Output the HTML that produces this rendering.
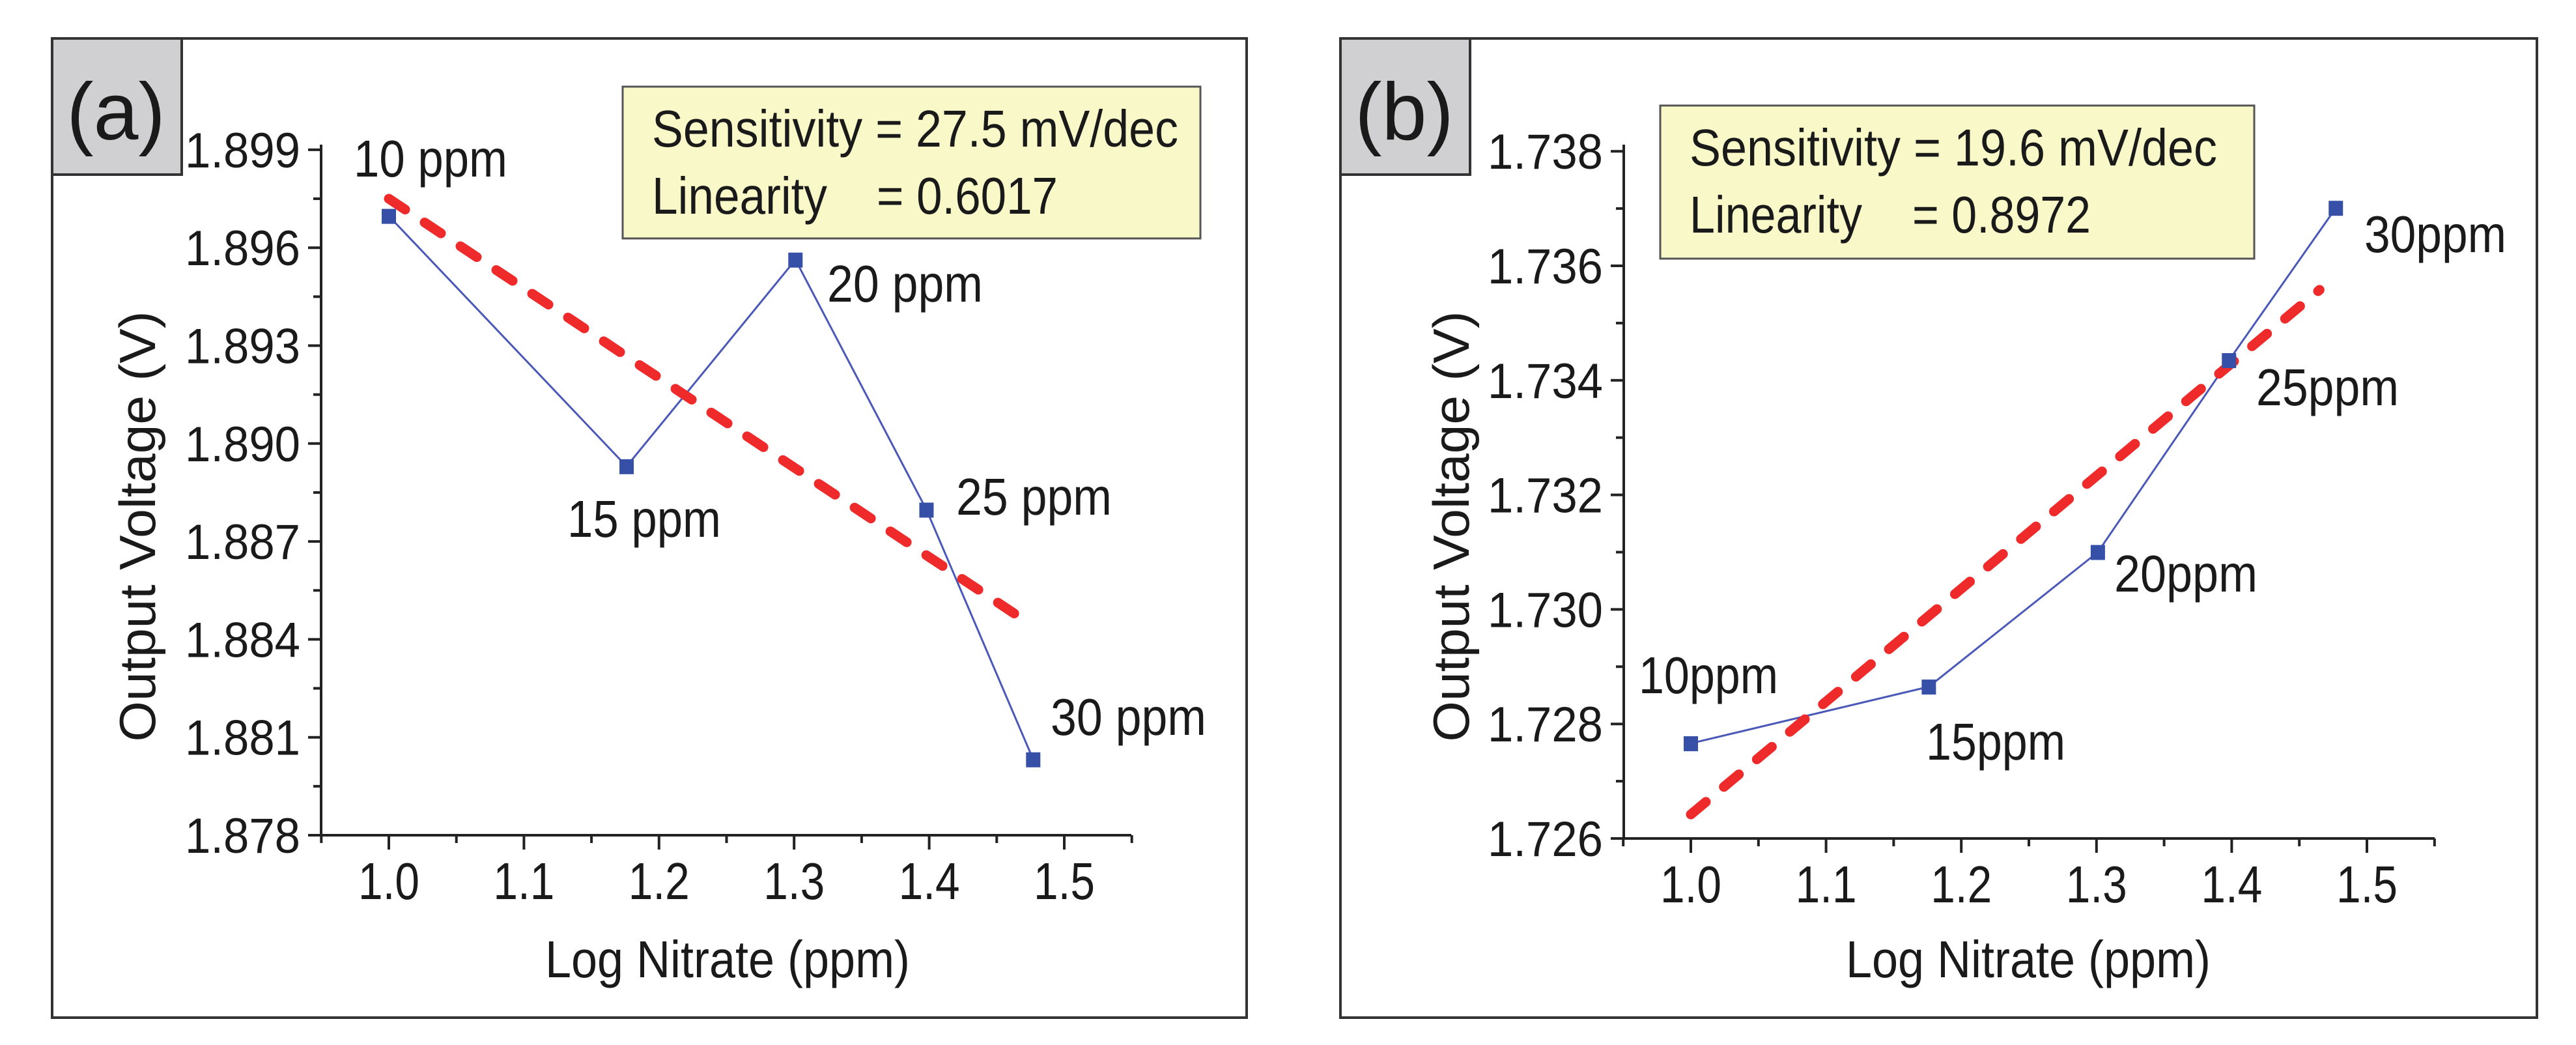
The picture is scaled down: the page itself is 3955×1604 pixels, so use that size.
<!DOCTYPE html>
<html><head><meta charset="utf-8"><style>
html,body{margin:0;padding:0;background:#fff;}
svg{display:block;}
text{font-family:"Liberation Sans",sans-serif;fill:#1a1a1a;}
</style></head><body>
<svg id="fig" width="3955" height="1604" viewBox="0 0 3955 1604" xmlns="http://www.w3.org/2000/svg">
<rect x="0" y="0" width="3955" height="1604" fill="#fff"/>
<g id="pa"></g>
<g id="pb"></g>
</svg>
<script>
// ---- Panel (a) data ----
const xTicksA = [1.0, 1.1, 1.2, 1.3, 1.4, 1.5];
const xTickLabelsA = ["1.0","1.1","1.2","1.3","1.4","1.5"];
const yTicksA = [1.878, 1.881, 1.884, 1.887, 1.890, 1.893, 1.896, 1.899];
const yTickLabelsA = ["1.878","1.881","1.884","1.887","1.890","1.893","1.896","1.899"];
const xValsA = [1.0, 1.176, 1.301, 1.398, 1.477];
const yValsA = [1.89697, 1.8893, 1.89563, 1.88797, 1.88032];
const pointLabelsA = ["10 ppm","15 ppm","20 ppm","25 ppm","30 ppm"];
const fitXA = [1.0, 1.466];
const fitYA = [1.8975, 1.88471];
// ---- Panel (b) data ----
const xTicksB = [1.0, 1.1, 1.2, 1.3, 1.4, 1.5];
const xTickLabelsB = ["1.0","1.1","1.2","1.3","1.4","1.5"];
const yTicksB = [1.726, 1.728, 1.730, 1.732, 1.734, 1.736, 1.738];
const yTickLabelsB = ["1.726","1.728","1.730","1.732","1.734","1.736","1.738"];
const xValsB = [1.0, 1.176, 1.301, 1.398, 1.477];
const yValsB = [1.72766, 1.72865, 1.7310, 1.73435, 1.73701];
const pointLabelsB = ["10ppm","15ppm","20ppm","25ppm","30ppm"];
const fitXB = [1.0, 1.465];
const fitYB = [1.72642, 1.73558];

const NS = "http://www.w3.org/2000/svg";
function mk(tag, attrs, parent){const e=document.createElementNS(NS,tag);for(const k in attrs)e.setAttribute(k,attrs[k]);parent.appendChild(e);return e;}

function panel(g, cfg){
  // frame
  const fr = mk('rect',{x:cfg.fx,y:59,width:cfg.fw,height:1503,fill:'#fff',stroke:'#333',"stroke-width":4},g);
  
  
  const lb = mk('rect',{x:cfg.fx,y:59,width:199,height:209,fill:'#d0d0d2',stroke:'#333',"stroke-width":4},g);
  
  
  const lt = mk('text',{x:cfg.fx+98,y:214,"font-size":124,"text-anchor":"middle"},g);
  lt.textContent = cfg.label;
  
  

  const X = v => cfg.x0 + (v-1.0)/0.1*cfg.xs;
  const Y = v => cfg.yBot - (v-cfg.yMin)/cfg.yStep*cfg.ys;
  // axes
  const ax = mk('path',{d:`M${cfg.ax} ${cfg.yTop}V${cfg.yBot}H${cfg.axEnd}`,fill:'none',stroke:'#222',"stroke-width":4},g);
  
  
  // y ticks
  cfg.yTicks.forEach((t,i)=>{
    const y=Y(t);
    const tk=mk('line',{x1:cfg.ax-20,x2:cfg.ax,y1:y,y2:y,stroke:'#222',"stroke-width":4},g);
    
    
    if(i<cfg.yTicks.length-1){
      const ym=Y(t+cfg.yStep/2);
      const mt=mk('line',{x1:cfg.ax-12,x2:cfg.ax,y1:ym,y2:ym,stroke:'#222',"stroke-width":4},g);
      
      
    }
    const tl=mk('text',{x:cfg.ax-32,y:y+27,"font-size":76,"text-anchor":"end",textLength:177,lengthAdjust:"spacingAndGlyphs"},g);
    tl.textContent=cfg.yLabels[i];
    
    
  });
  // x ticks
  const mts=[0.95,1.05,1.15,1.25,1.35,1.45,1.55];
  mts.forEach(v=>{
    const x=X(v);
    const mt=mk('line',{x1:x,x2:x,y1:cfg.yBot,y2:cfg.yBot+12,stroke:'#222',"stroke-width":4},g);
    
    
  });
  cfg.xTicks.forEach((t,i)=>{
    const x=X(t);
    const tk=mk('line',{x1:x,x2:x,y1:cfg.yBot,y2:cfg.yBot+22,stroke:'#222',"stroke-width":4},g);
    
    
    const tl=mk('text',{x:x,y:cfg.yBot+98,"font-size":80,"text-anchor":"middle",textLength:94,lengthAdjust:"spacingAndGlyphs"},g);
    tl.textContent=cfg.xLabels[i];
    
    
  });
  // titles
  const yt=mk('text',{x:0,y:0,"font-size":78,"text-anchor":"middle",textLength:661,lengthAdjust:"spacingAndGlyphs",transform:`translate(${cfg.ytx},808) rotate(-90)`},g);
  yt.textContent="Output Voltage (V)";
  
  
  const xt=mk('text',{x:cfg.xtx,y:1500,"font-size":80,"text-anchor":"middle",textLength:560,lengthAdjust:"spacingAndGlyphs"},g);
  xt.textContent="Log Nitrate (ppm)";
  
  
  // info box
  const ib=mk('rect',{x:cfg.bx,y:cfg.by,width:cfg.bw,height:cfg.bh,fill:'#f9f8c8',stroke:'#555',"stroke-width":3},g);
  
  
  const s1=mk('text',{x:cfg.bx+45,y:cfg.by+92,"font-size":80,textLength:cfg.s1w,lengthAdjust:"spacingAndGlyphs"},g);
  s1.textContent=cfg.sens;
  
  
  const s2=mk('text',{x:cfg.bx+45,y:cfg.by+195,"font-size":80,textLength:cfg.l1w,lengthAdjust:"spacingAndGlyphs"},g);
  s2.textContent="Linearity";
  
  
  const s3=mk('text',{x:cfg.eqx,y:cfg.by+195,"font-size":80,textLength:cfg.eqw,lengthAdjust:"spacingAndGlyphs"},g);
  s3.textContent=cfg.lin;
  
  
  // data line
  const pts=cfg.xv.map((v,i)=>X(v)+','+Y(cfg.yv[i])).join(' ');
  const pl=mk('polyline',{points:pts,fill:'none',stroke:'#4a58b8',"stroke-width":3},g);
  
  
  // fit
  const fl=mk('line',{x1:X(cfg.fx0[0]),y1:Y(cfg.fy0[0]),x2:X(cfg.fx0[1]),y2:Y(cfg.fy0[1]),stroke:'#ee2a2a',"stroke-width":15,"stroke-dasharray":"30 36","stroke-linecap":"round"},g);
  
  
  cfg.xv.forEach((v,i)=>{
    const m=mk('rect',{x:X(v)-11,y:Y(cfg.yv[i])-11,width:22,height:23,fill:'#3650a8'},g);
    
    
    const p=cfg.lp[i];
    const t=mk('text',{x:p[0],y:p[1],"font-size":80,textLength:p[2],lengthAdjust:"spacingAndGlyphs"},g);
    t.textContent=cfg.pl[i];
    
    
  });
}

panel(document.getElementById('pa'),{
  fx:80,fw:1834,label:"(a)",
  x0:597,xs:207.4,ax:493,axEnd:1737,yTop:222,yBot:1282,yMin:1.878,yStep:0.003,ys:150.3,
  yTicks:yTicksA,yLabels:yTickLabelsA,xTicks:xTicksA,xLabels:xTickLabelsA,
  ytx:238,xtx:1117,
  bx:956,by:133,bw:887,bh:233,s1w:808,l1w:269,eqx:1346,eqw:278,
  sens:"Sensitivity = 27.5 mV/dec",lin:"= 0.6017",
  xv:xValsA,yv:yValsA,fx0:fitXA,fy0:fitYA,pl:pointLabelsA,
  lp:[[543,271,236],[871,824,236],[1270,463,239],[1468,790,239],[1613,1128,239]]
});
panel(document.getElementById('pb'),{
  fx:2058,fw:1837,label:"(b)",
  x0:2596,xs:207.6,ax:2493,axEnd:3738,yTop:222,yBot:1287,yMin:1.726,yStep:0.002,ys:175.8,
  yTicks:yTicksB,yLabels:yTickLabelsB,xTicks:xTicksB,xLabels:xTickLabelsB,
  ytx:2255,xtx:3114,
  bx:2549,by:162,bw:912,bh:235,s1w:810,l1w:265,eqx:2936,eqw:274,
  sens:"Sensitivity = 19.6 mV/dec",lin:"= 0.8972",
  xv:xValsB,yv:yValsB,fx0:fitXB,fy0:fitYB,pl:pointLabelsB,
  lp:[[2516,1064,214],[2957,1166,214],[3246,908,220],[3464,622,219],[3630,387,218]]
});
</script>
</body></html>
